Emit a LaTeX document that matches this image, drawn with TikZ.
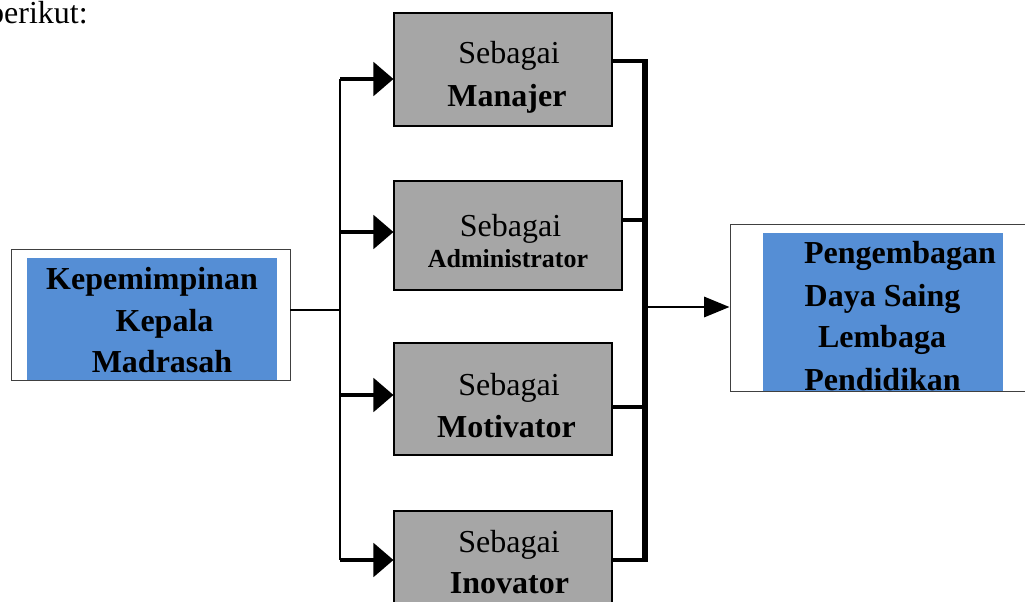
\documentclass[tikz,border=0pt]{standalone}
\usepackage{fontspec}
\setmainfont{Liberation Serif}
\usetikzlibrary{arrows.meta,positioning,fit,calc}
\definecolor{roleGray}{RGB}{166,166,166}
\definecolor{goalBlue}{RGB}{85,142,213}

\begin{document}
\begin{tikzpicture}[x=0.75pt,y=-0.75pt,
  frame/.style={draw=black!75, line width=0.7pt, inner sep=0pt},
  panel/.style={fill=goalBlue, inner sep=0pt},
  role/.style={draw=black, line width=0.8pt, fill=roleGray, inner sep=0pt},
  txt/.style={font=\fontsize{24}{28}\selectfont, anchor=base, inner sep=0pt},
  txtb/.style={font=\fontsize{24}{28}\selectfont\bfseries, anchor=base, inner sep=0pt},
  trunk/.style={line width=1.5pt},
  link/.style={line width=2.5pt},
  bus/.style={line width=3.8pt, line cap=rect},
  feed/.style={line width=3pt, -{Triangle[length=15pt,width=25pt]}},
  result/.style={line width=2.2pt, -{Triangle[length=19pt,width=15pt]}}]
\useasboundingbox (0,0) rectangle (1025,601);
\fill[white] (0,0) rectangle (1025,601);

\node[txt, anchor=base east] (intro) at (88,23) {berikut:};

% Kepala Madrasah
\node[panel, fit={(27,258) (277,380)}] (leadPanel) {};
\node[frame, fit={(11,249) (290,380)}] (lead) {};
\node[txtb] (lead1) at (152,289) {Kepemimpinan};
\node[txtb] (lead2) at (164.5,331) {Kepala};
\node[txtb] (lead3) at (162,372) {Madrasah};

% Roles
\node[role, fit={(394,13) (612,126)}] (mgr) {};
\node[txt] (mgr1) at (509,63) {Sebagai};
\node[txtb] (mgr2) at (507,106) {Manajer};

\node[role, fit={(394,181) (622,290)}] (adm) {};
\node[txt] (adm1) at (510.5,236) {Sebagai};
\node[txtb, font=\fontsize{19.5}{23}\selectfont\bfseries] (adm2) at (508,267) {Administrator};

\node[role, fit={(394,343) (612,455)}] (mot) {};
\node[txt] (mot1) at (509,395) {Sebagai};
\node[txtb] (mot2) at (506.5,437) {Motivator};

\node[role, fit={(394,511) (612,615)}] (ino) {};
\node[txt] (ino1) at (509,552) {Sebagai};
\node[txtb] (ino2) at (509.5,593) {Inovator};

% Daya Saing
\node[panel, fit={(763,233) (1003,391)}] (goalPanel) {};
\node[frame, fit={(730,224) (1045,391)}] (goal) {};
\node[txtb] (goal1) at (900,263) {Pengembagan};
\node[txtb] (goal2) at (882.5,306) {Daya Saing};
\node[txtb] (goal3) at (882,347) {Lembaga};
\node[txtb] (goal4) at (882.5,390) {Pendidikan};

% Connectors
\coordinate (split) at (340,310);
\coordinate (in1) at (340,79);
\coordinate (in2) at (340,232);
\coordinate (in3) at (340,395);
\coordinate (in4) at (340,560);
\draw[trunk] (lead.east |- split) -- (split);
\draw[trunk] (in1) -- (in4);
\draw[feed] (in1) -- (in1 -| mgr.west);
\draw[feed] (in2) -- (in2 -| adm.west);
\draw[feed] (in3) -- (in3 -| mot.west);
\draw[feed] (in4) -- (in4 -| ino.west);

\coordinate (out1) at (645,61);
\coordinate (out2) at (645,220);
\coordinate (out3) at (645,407);
\coordinate (out4) at (645,560);
\coordinate (join) at (645,307);
\draw[link] (out1 -| mgr.east) -- (out1);
\draw[link] (out2 -| adm.east) -- (out2);
\draw[link] (out3 -| mot.east) -- (out3);
\draw[link] (out4 -| ino.east) -- (out4);
\draw[bus] ([yshift=-0.65pt]out1) -- ([yshift=0.65pt]out4);
\draw[result] (join) -- (join -| goal.west);
\end{tikzpicture}
\end{document}
